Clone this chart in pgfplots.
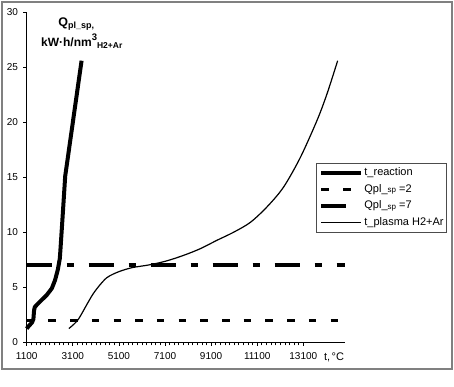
\documentclass[border=0pt]{standalone}
\usepackage{pgfplots}
\pgfplotsset{compat=1.18}
\usepackage{fontspec}
\setmainfont{Liberation Sans}
\begin{document}
\begin{tikzpicture}
\begin{axis}[
  at={(26.7pt,43.7pt)}, anchor=south west,
  scale only axis, width=318.1pt, height=330pt,
  xmin=1100, xmax=14900, ymin=0, ymax=30,
  axis x line*=bottom, axis y line*=left,
  axis line style={-, line width=0.8pt, black},
  xtick={1100,3100,...,13100}, minor x tick num=9,
  ytick={0,5,...,30},
  scaled ticks=false,
  tick align=outside,
  major tick length=3.5pt, minor tick length=3pt,
  every tick/.style={line width=0.7pt, black},
  /pgf/number format/1000 sep={},
  /pgf/number format/assume math mode=true,
  ticklabel style={font=\fontsize{10}{12}\selectfont},
  xticklabel style={inner sep=0pt, yshift=-7pt},
  yticklabel style={inner sep=0pt, xshift=-5pt},
  clip=false,
  xlabel={t,\hspace{1.5pt}°C},
  every axis x label/.style={at={(axis cs:14432,0)}, anchor=north, yshift=-10.7pt, inner sep=0pt, font=\fontsize{11}{13}\selectfont},
  ylabel={{\fontsize{12.5}{12.5}\selectfont Q}\raisebox{-2pt}{\fontsize{9}{9}\selectfont pl\_sp,}\hspace*{11pt}\\kW·h/nm\raisebox{6.7pt}{\fontsize{9.5}{9.5}\selectfont 3}\raisebox{-1.8pt}{\fontsize{8.5}{8.5}\selectfont H2+Ar}},
  every axis y label/.style={at={(axis description cs:0.173,0.985)}, anchor=north, align=center, font=\bfseries\fontsize{12}{20.7}\selectfont, inner sep=0pt},
  legend style={at={(axis description cs:0.9095,0.5433)}, anchor=north west, draw=black!70, line width=0.8pt, inner xsep=3pt, inner ysep=4pt, font=\fontsize{11}{13}\selectfont, row sep=6.2pt, column sep=1pt, nodes={inner sep=0pt, text height=8pt, text depth=2.5pt}, cells={anchor=west}},
  legend image code/.code={\draw[#1] (0pt,0pt) -- (40pt,0pt);},
]
\addplot[black, line width=4pt, line join=round] coordinates {
(1100,1.25) (1200,1.5) (1330,1.8) (1390,2.1) (1420,2.9) (1450,3.2) (1535,3.4)
(1750,3.85) (1970,4.3) (2190,4.9) (2330,5.65) (2450,6.6) (2535,7.6) (2560,8.3)
(2660,11.5) (2770,15.1) (3480,25.6)};
\addlegendentry{t\_reaction}
\addplot[black, line width=3pt, dash pattern=on 7.5pt off 14.2pt] coordinates {(1100,2) (14900,2)};
\addlegendentry{Qpl\_\raisebox{-0.5pt}{\fontsize{8}{8}\selectfont sp} =2}
\addplot[black, line width=4pt, dash pattern=on 25pt off 15pt on 7pt off 15pt] coordinates {(1100,7) (14900,7)};
\addlegendentry{Qpl\_\raisebox{-0.5pt}{\fontsize{8}{8}\selectfont sp} =7}
\addplot[black, line width=1.2pt, smooth] coordinates {
(2930,1.25) (3150,1.65) (3330,2.06) (3500,2.65) (3700,3.4) (3980,4.4) (4270,5.2)
(4560,5.85) (4850,6.2) (5200,6.5) (5700,6.8) (6450,7.05) (7170,7.4) (7900,7.9)
(8620,8.5) (9350,9.27) (10070,10.0) (10800,10.9) (11520,12.3) (12240,14.1)
(12970,16.8) (13700,20.2) (14130,22.6) (14590,25.6)};
\addlegendentry{t\_plasma H2+Ar}
\end{axis}
\draw[color=black!50, line width=1.2pt] (2pt,17pt) rectangle (452pt,384pt);
\path (0pt,0pt) rectangle (454pt,386pt);
\end{tikzpicture}
\end{document}
